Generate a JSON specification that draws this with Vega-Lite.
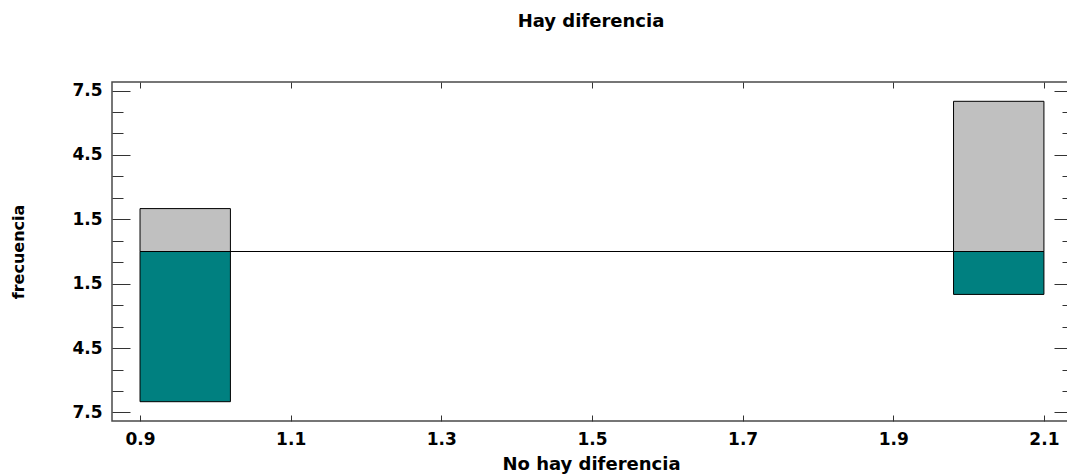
{
  "$schema": "https://vega.github.io/schema/vega-lite/v6.json",
  "width": 958,
  "height": 339,
  "autosize": "none",
  "padding": {"left": 112, "top": 82, "right": 0, "bottom": 53},
  "background": "white",
  "title": {
    "text": "Hay diferencia",
    "font": "DejaVu Sans",
    "fontSize": 18,
    "fontWeight": "bold",
    "color": "#000",
    "anchor": "middle",
    "frame": "group",
    "offset": 51
  },
  "config": {
    "view": {"stroke": "#4a4a4a", "strokeWidth": 1.5},
    "axis": {
      "domain": false,
      "grid": false,
      "tickColor": "#333",
      "tickWidth": 1,
      "labelFont": "DejaVu Sans",
      "labelFontSize": 17,
      "labelFontWeight": "bold",
      "labelColor": "#000",
      "titleFont": "DejaVu Sans",
      "titleFontWeight": "bold",
      "titleColor": "#000"
    }
  },
  "data": {
    "values": [
      {"grupo": "Hay diferencia", "desde": 0.9, "hasta": 1.02, "frecuencia": 2},
      {"grupo": "No hay diferencia", "desde": 0.9, "hasta": 1.02, "frecuencia": -7},
      {"grupo": "Hay diferencia", "desde": 1.98, "hasta": 2.1, "frecuencia": 7},
      {"grupo": "No hay diferencia", "desde": 1.98, "hasta": 2.1, "frecuencia": -2}
    ]
  },
  "layer": [
    {
      "mark": {"type": "bar", "stroke": "#000", "strokeWidth": 1},
      "encoding": {
        "x": {
          "field": "desde",
          "type": "quantitative",
          "scale": {"domain": [0.8628, 2.1346], "nice": false, "zero": false},
          "axis": {
            "orient": "bottom",
            "values": [0.9, 1.1, 1.3, 1.5, 1.7, 1.9, 2.1],
            "format": ".1f",
            "tickSize": -6,
            "labelPadding": 16,
            "title": "No hay diferencia",
            "titleFontSize": 18,
            "titlePadding": 8
          }
        },
        "x2": {"field": "hasta"},
        "y": {
          "field": "frecuencia",
          "type": "quantitative",
          "scale": {"domain": [-7.9, 7.9], "nice": false},
          "axis": {
            "orient": "left",
            "values": [-7.5, -6.5, -5.5, -4.5, -3.5, -2.5, -1.5, -0.5, 0.5, 1.5, 2.5, 3.5, 4.5, 5.5, 6.5, 7.5],
            "labelExpr": "abs(datum.value) % 3 == 1.5 ? format(abs(datum.value), '.1f') : ''",
            "tickSize": {"condition": {"test": "abs(datum.value) % 3 == 1.5", "value": -18}, "value": -11},
            "labelPadding": 28,
            "title": "frecuencia",
            "titleFontSize": 16,
            "titlePadding": 45
          }
        },
        "y2": {"datum": 0},
        "color": {
          "field": "grupo",
          "type": "nominal",
          "scale": {"domain": ["Hay diferencia", "No hay diferencia"], "range": ["#c0c0c0", "#008080"]},
          "legend": null
        }
      }
    },
    {
      "data": {"values": [{}]},
      "mark": {"type": "rule", "color": "#000", "strokeWidth": 1},
      "encoding": {
        "x": {
          "datum": 0.9,
          "type": "quantitative",
          "axis": {
            "orient": "top",
            "values": [0.9, 1.1, 1.3, 1.5, 1.7, 1.9, 2.1],
            "labels": false,
            "tickSize": -6,
            "title": null
          }
        },
        "x2": {"datum": 2.1},
        "y": {
          "datum": 0,
          "type": "quantitative",
          "axis": {
            "orient": "right",
            "values": [-7.5, -6.5, -5.5, -4.5, -3.5, -2.5, -1.5, -0.5, 0.5, 1.5, 2.5, 3.5, 4.5, 5.5, 6.5, 7.5],
            "labels": false,
            "tickSize": {"condition": {"test": "abs(datum.value) % 3 == 1.5", "value": -16}, "value": -8},
            "title": null
          }
        }
      }
    }
  ],
  "resolve": {"axis": {"x": "independent", "y": "independent"}}
}
